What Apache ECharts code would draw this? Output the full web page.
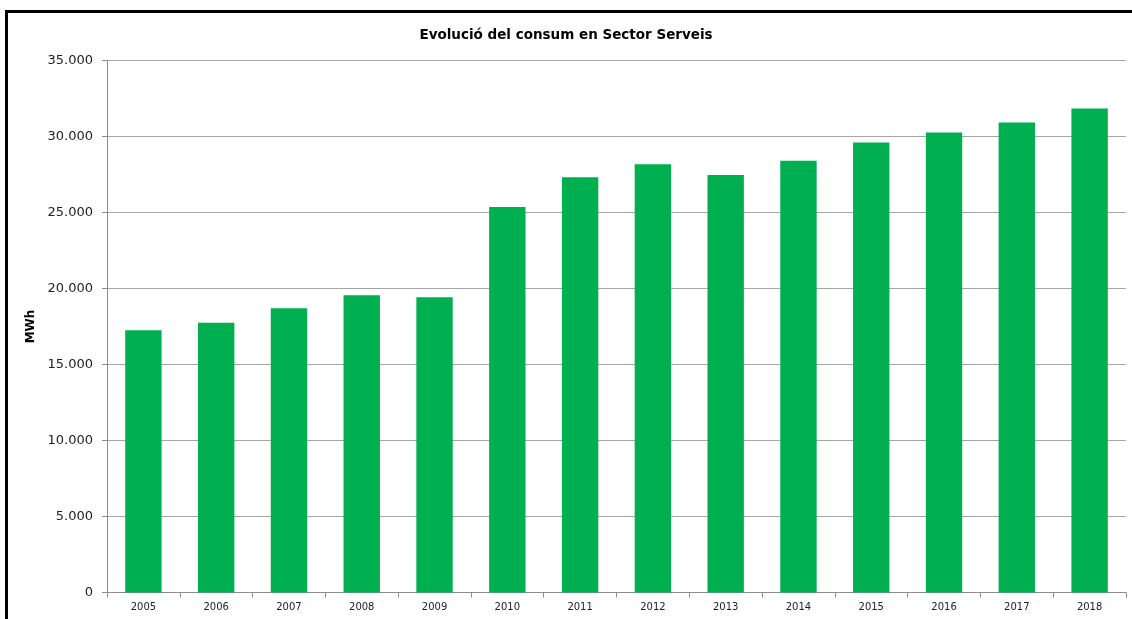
<!DOCTYPE html>
<html>
<head>
<meta charset="utf-8">
<script src="https://cdn.jsdelivr.net/npm/echarts@6/dist/echarts.min.js"></script>
<style>
html,body{margin:0;padding:0;background:#fff;overflow:hidden;}
#wrap{position:relative;width:1132px;height:619px;overflow:hidden;}
#chart{width:1132px;height:619px;}
#frame{position:absolute;left:5px;top:10px;width:1200px;height:700px;border-left:3px solid #000;border-top:3px solid #000;pointer-events:none;}
</style>
</head>
<body>
<div id="wrap">
<div id="chart"></div>
<div id="frame"></div>
</div>
<script>
const years = ['2005','2006','2007','2008','2009','2010','2011','2012','2013','2014','2015','2016','2017','2018'];
const consum = [17250, 17750, 18700, 19560, 19430, 25370, 27320, 28180, 27470, 28400, 29600, 30260, 30920, 31840];
const titleText = 'Evolució del consum en Sector Serveis';
const yAxisName = 'MWh';

function fmt(v){
  return String(v).replace(/\B(?=(\d{3})+(?!\d))/g, '.');
}

const chart = echarts.init(document.getElementById('chart'), null, {renderer:'canvas'});
chart.setOption({
  animation:false,
  backgroundColor:'#fff',
  title:{
    text:titleText,
    left:'center',
    top:23,
    textStyle:{fontFamily:'DejaVu Sans', fontSize:13.5, fontWeight:'bold', color:'#000'}
  },
  grid:{left:107, right:6, top:60.5, bottom:26.5, containLabel:false},
  xAxis:{
    type:'category',
    data:years,
    axisLine:{lineStyle:{color:'#8c8c8c', width:1}},
    axisTick:{show:true, length:5, lineStyle:{color:'#8c8c8c'}},
    axisLabel:{fontFamily:'DejaVu Sans', fontSize:10, color:'#222', margin:10}
  },
  yAxis:{
    type:'value',
    min:0, max:35000, interval:5000,
    name:yAxisName,
    nameLocation:'middle',
    nameGap:60,
    nameRotate:90,
    nameTextStyle:{fontFamily:'DejaVu Sans', fontSize:12, fontWeight:'bold', color:'#000'},
    axisLine:{show:true, lineStyle:{color:'#8c8c8c', width:1}},
    axisTick:{show:true, length:5, lineStyle:{color:'#8c8c8c'}},
    axisLabel:{fontFamily:'DejaVu Sans', fontSize:13, color:'#222', margin:14, formatter:fmt},
    splitLine:{show:true, lineStyle:{color:'#a6a6a6', width:1}}
  },
  series:[{
    type:'bar',
    data:consum,
    barCategoryGap:'50%',
    itemStyle:{color:'#00b050'}
  }]
});
</script>
</body>
</html>
